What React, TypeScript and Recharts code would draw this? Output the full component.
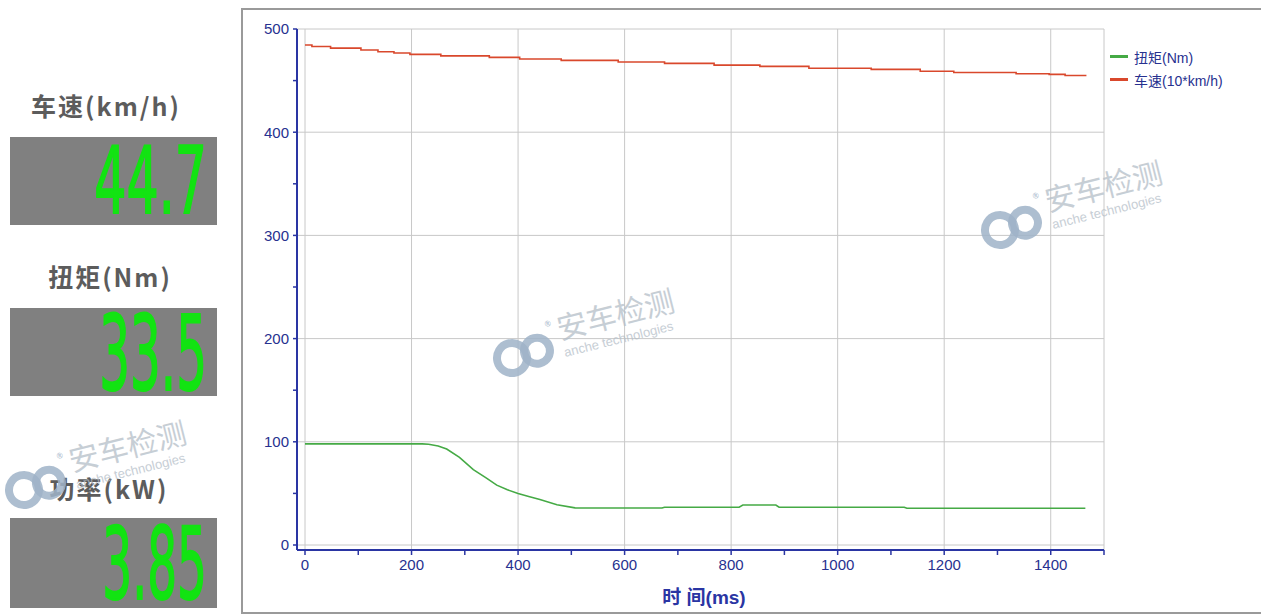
import React from "react";
import { LineChart, Line, XAxis, YAxis, CartesianGrid, Legend } from "recharts";

// torque (Nm) vs time (ms)
const torqueTimes = [0, 220, 232, 250, 266, 290, 316, 340, 360, 380, 400, 420, 441, 473, 507, 530, 670, 675, 815, 822, 884, 890, 1125, 1130, 1465];
const torqueValues = [98, 98, 97.6, 96, 93, 85, 73, 65, 58, 53.5, 50, 47, 44, 39, 36, 35.8, 35.8, 36.6, 36.6, 38.7, 38.7, 36.6, 36.6, 35.6, 35.6];

// speed (10*km/h) vs time (ms), stepped
const speedTimes = [0, 13, 48, 105, 137, 167, 197, 255, 346, 403, 481, 588, 675, 768, 854, 946, 1063, 1155, 1218, 1335, 1397, 1427, 1467];
const speedValues = [484.5, 483, 481.5, 479.6, 478, 476.7, 475.4, 474, 472.5, 471, 469.6, 468, 466.7, 465, 463.8, 462, 460.9, 459, 457.9, 456.6, 456, 455, 455];

const xTicks = [0, 100, 200, 300, 400, 500, 600, 700, 800, 900, 1000, 1100, 1200, 1300, 1400, 1500];
const yTicks = [0, 50, 100, 150, 200, 250, 300, 350, 400, 450, 500];
const xGrid = [0, 200, 400, 600, 800, 1000, 1200, 1400, 1500];
const yGrid = [0, 100, 200, 300, 400, 500];

const displayLabels = ["车速(km/h)", "扭矩(Nm)", "功率(kW)"];
const displayValues = ["44.7", "33.5", "3.85"];

const torqueData = torqueTimes.map((t, i) => ({ t, v: torqueValues[i] }));
const speedData = speedTimes.map((t, i) => ({ t, v: speedValues[i] }));

const BLUE = "#2a35a3";
const TEXT_BLUE = "#27318f";
const LATIN = "'Liberation Sans', 'Noto Sans CJK SC', sans-serif";

// only label every 200 ms / every 100 units; minor ticks keep their tick line
const XTick = (props: any) => {
  const v = props.payload.value;
  if (v % 200 !== 0 || v > 1400) return <g />;
  return (
    <text x={props.x} y={props.y} dy="0.71em" textAnchor="middle" fill={TEXT_BLUE} fontSize={15} fontFamily={LATIN}>
      {v}
    </text>
  );
};

const YTick = (props: any) => {
  const v = props.payload.value;
  if (v % 100 !== 0) return <g />;
  return (
    <text x={props.x} y={props.y} dy="0.355em" textAnchor="end" fill={TEXT_BLUE} fontSize={15} fontFamily={LATIN}>
      {v}
    </text>
  );
};

const renderLegend = (props: any) => (
  <div style={{ fontFamily: LATIN, fontSize: 14, color: TEXT_BLUE }}>
    {props.payload.map((p: any) => (
      <div key={p.value} style={{ display: "flex", alignItems: "center", height: 23 }}>
        <span style={{ display: "inline-block", width: 18, height: 3, background: p.color, marginRight: 6 }} />
        {p.value}
      </div>
    ))}
  </div>
);

const Watermark = ({ x, y }: { x: number; y: number }) => (
  <g transform={`translate(${x},${y}) rotate(-14)`}>
    <circle cx={0} cy={0} r={15} fill="none" stroke="#9fb3c8" strokeWidth={8} opacity={0.85} />
    <circle cx={26} cy={-1} r={13} fill="none" stroke="#9fb3c8" strokeWidth={8} opacity={0.85} />
    <text x={40} y={-22} fontSize={8} fill="#9fb3c8" fontFamily={LATIN}>®</text>
    <text x={51} y={-6} fontSize={30} fill="#b4bec8" opacity={0.75} fontFamily="'Noto Sans CJK SC', sans-serif">安车检测</text>
    <text x={52} y={12} fontSize={13} fill="#b4bec8" opacity={0.75} fontFamily={LATIN} textLength={112} lengthAdjust="spacingAndGlyphs">anche technologies</text>
  </g>
);

const labelCenters = [{ x: 106, y: 105 }, { x: 110, y: 276 }, { x: 109, y: 488 }];
const boxes = [
  { top: 137, h: 88, baseline: 213, size: 92, sx: 0.55 },
  { top: 308, h: 88, baseline: 390, size: 103, sx: 0.47 },
  { top: 518, h: 90, baseline: 599, size: 100, sx: 0.47 },
];

export default function App() {
  return (
    <div style={{ position: "absolute", left: 0, top: 0, width: 1261, height: 614, background: "#fff", overflow: "hidden" }}>
      {/* left readout panel */}
      <svg width={240} height={614} style={{ position: "absolute", left: 0, top: 0 }}>
        {boxes.map((b, i) => (
          <g key={i}>
            <rect x={10} y={b.top} width={207} height={b.h} fill="#808080" />
            <text
              x={0}
              y={0}
              transform={`translate(207,${b.baseline}) scale(${b.sx},1)`}
              textAnchor="end"
              fontSize={b.size}
              fill="#12e312"
              stroke="#12e312"
              strokeWidth={2}
              fontFamily="'DejaVu Sans', sans-serif"
            >
              {displayValues[i]}
            </text>
          </g>
        ))}
      </svg>
      {displayLabels.map((l, i) => (
        <div
          key={l}
          style={{
            position: "absolute",
            left: labelCenters[i].x - 100,
            top: labelCenters[i].y - 16,
            width: 200,
            lineHeight: "32px",
            textAlign: "center",
            fontFamily: "'Noto Sans CJK SC', sans-serif",
            fontWeight: 700,
            fontSize: 25,
            letterSpacing: 2,
            color: "#5c5c5c",
          }}
        >
          {l}
        </div>
      ))}

      {/* chart frame */}
      <div style={{ position: "absolute", left: 241, top: 8, width: 1040, height: 602, border: "2px solid #9a9a9a" }} />

      <div style={{ position: "absolute", left: 241, top: 8 }}>
        <LineChart width={1020} height={606} margin={{ top: 21, right: 157, bottom: 34, left: 0 }}>
          <CartesianGrid stroke="#c8c8c8" horizontalValues={yGrid} verticalValues={xGrid} />
          <XAxis
            type="number"
            dataKey="t"
            domain={[0, 1500]}
            ticks={xTicks}
            interval={0}
            padding={{ left: 8, right: 0 }}
            height={30}
            allowDataOverflow
            axisLine={{ stroke: BLUE, strokeWidth: 2 }}
            tickLine={{ stroke: BLUE, strokeWidth: 1.5 }}
            tickSize={5}
            tickMargin={4}
            tick={<XTick />}
          />
          <YAxis
            type="number"
            domain={[0, 500]}
            ticks={yTicks}
            interval={0}
            width={56}
            padding={{ top: 0, bottom: 5 }}
            allowDataOverflow
            axisLine={{ stroke: BLUE, strokeWidth: 2 }}
            tickLine={{ stroke: BLUE, strokeWidth: 1.5 }}
            tickSize={4}
            tickMargin={4}
            tick={<YTick />}
          />
          <Line data={torqueData} dataKey="v" name="扭矩(Nm)" type="linear" stroke="#45aa45" strokeWidth={1.6} dot={false} isAnimationActive={false} />
          <Line data={speedData} dataKey="v" name="车速(10*km/h)" type="stepAfter" stroke="#d9482c" strokeWidth={1.6} dot={false} isAnimationActive={false} />
          <Legend
            layout="vertical"
            align="center"
            verticalAlign="middle"
            content={renderLegend}
            wrapperStyle={{ left: 869, top: 37, width: 150 }}
          />
        </LineChart>
      </div>

      <div
        style={{
          position: "absolute",
          left: 604,
          top: 582,
          width: 200,
          textAlign: "center",
          fontFamily: LATIN,
          fontWeight: 700,
          fontSize: 19,
          color: BLUE,
        }}
      >
        时 间(ms)
      </div>

      {/* watermarks */}
      <svg width={1261} height={614} style={{ position: "absolute", left: 0, top: 0, pointerEvents: "none" }}>
        <Watermark x={1000} y={230} />
        <Watermark x={512} y={358} />
        <Watermark x={24} y={490} />
      </svg>
    </div>
  );
}
